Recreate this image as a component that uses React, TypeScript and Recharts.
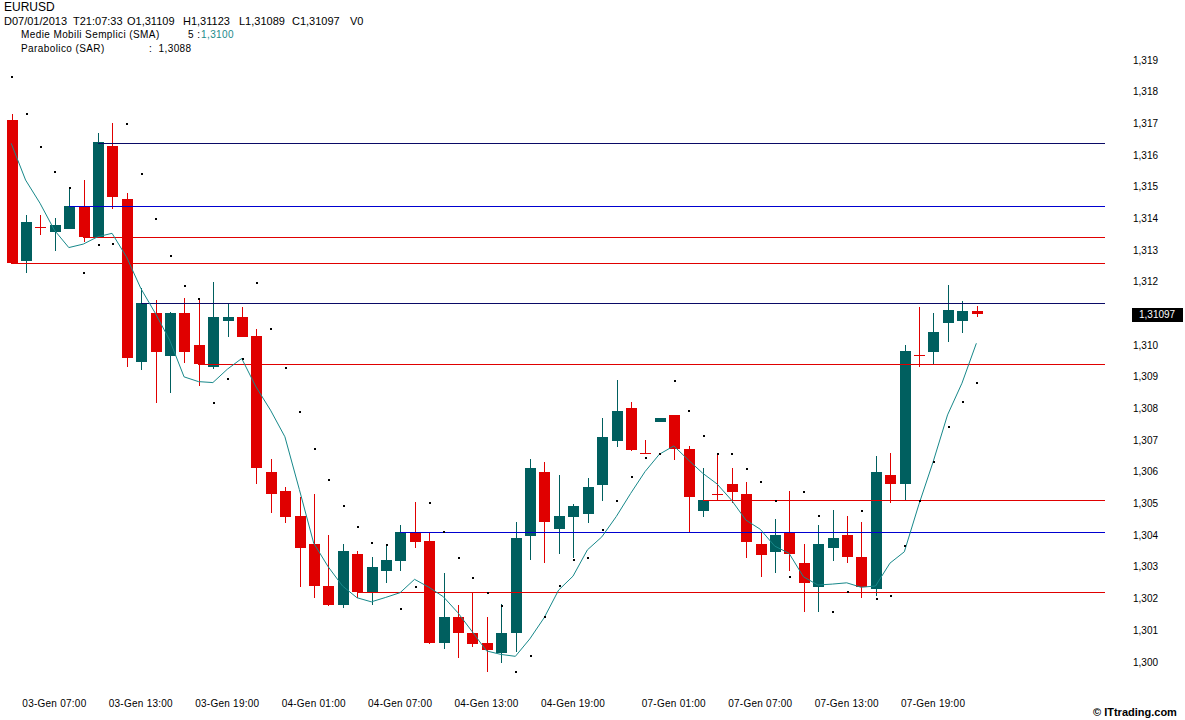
import React from "react";
import {
  Bar,
  ComposedChart,
  Line,
  ReferenceLine,
  XAxis,
  YAxis,
} from "recharts";

// EURUSD hourly candles, 03-Gen 04:00 .. 07-Gen
const opens = [
  1.31711, 1.31266, 1.31372, 1.31358, 1.31368, 1.31437, 1.31342, 1.31629, 1.31461, 1.30948,
  1.31102, 1.30966, 1.31102, 1.31, 1.3093, 1.31077, 1.31088, 1.31029, 1.30599, 1.3054,
  1.30461, 1.30372, 1.3024, 1.3018, 1.30341, 1.3022, 1.30288, 1.3032, 1.30409, 1.30383,
  1.30059, 1.30143, 1.30092, 1.30061, 1.30029, 1.30091, 1.30399, 1.30599, 1.30419, 1.30459,
  1.30467, 1.30559, 1.30698, 1.30801, 1.3066, 1.30758, 1.3078, 1.30671, 1.30478, 1.3053,
  1.30562, 1.3053, 1.30372, 1.30348, 1.30408, 1.30312, 1.30238, 1.30359, 1.30401, 1.30332,
  1.30229, 1.3059, 1.30561, 1.30968, 1.30979, 1.31069, 1.31077, 1.31109,
];
const highs = [
  1.3173, 1.31411, 1.31411, 1.314, 1.31498, 1.31521, 1.31671, 1.31702, 1.31479, 1.31179,
  1.31143, 1.31105, 1.31148, 1.31148, 1.312, 1.31132, 1.3112, 1.3105, 1.3064, 1.30551,
  1.30522, 1.3053, 1.30401, 1.30371, 1.30351, 1.30332, 1.30371, 1.30432, 1.30504, 1.30409,
  1.30282, 1.3018, 1.3022, 1.30143, 1.30182, 1.30443, 1.3064, 1.30632, 1.3059, 1.305,
  1.3058, 1.30769, 1.3089, 1.30822, 1.30701, 1.30769, 1.3078, 1.30682, 1.30611, 1.30656,
  1.30611, 1.30569, 1.30408, 1.3045, 1.3054, 1.30371, 1.30432, 1.3048, 1.30461, 1.30443,
  1.3065, 1.30661, 1.31, 1.31121, 1.31101, 1.3119, 1.31139, 1.31123,
];
const lows = [
  1.31259, 1.31229, 1.31348, 1.31298, 1.31368, 1.31327, 1.31338, 1.31429, 1.3093, 1.30922,
  1.30817, 1.30849, 1.30943, 1.30871, 1.30925, 1.31027, 1.31025, 1.30561, 1.30469, 1.3044,
  1.30238, 1.30201, 1.30178, 1.30169, 1.30203, 1.3018, 1.3025, 1.30288, 1.30359, 1.30058,
  1.3004, 1.30012, 1.30048, 1.29969, 1.29998, 1.30033, 1.30322, 1.30312, 1.3034, 1.30329,
  1.3044, 1.30509, 1.3068, 1.30667, 1.30655, 1.30758, 1.30638, 1.30408, 1.30459, 1.30511,
  1.30501, 1.30329, 1.30269, 1.3028, 1.30288, 1.30159, 1.30159, 1.3032, 1.30312, 1.30201,
  1.30208, 1.30501, 1.30511, 1.3093, 1.3094, 1.31009, 1.31039, 1.31089,
];
const closes = [
  1.31259, 1.3139, 1.3137, 1.31379, 1.31439, 1.3134, 1.31641, 1.31469, 1.30959, 1.31133,
  1.30979, 1.31102, 1.30979, 1.3094, 1.31088, 1.31088, 1.31027, 1.30611, 1.30529, 1.30459,
  1.30359, 1.3024, 1.3018, 1.3035, 1.3022, 1.30301, 1.30322, 1.30409, 1.3038, 1.30059,
  1.30143, 1.30091, 1.30057, 1.30038, 1.30092, 1.30392, 1.30611, 1.30441, 1.30461, 1.30492,
  1.30551, 1.30709, 1.30792, 1.30669, 1.30658, 1.30769, 1.30671, 1.3052, 1.30511, 1.30528,
  1.30537, 1.3038, 1.30338, 1.30401, 1.3034, 1.3025, 1.30372, 1.30392, 1.3033, 1.30238,
  1.30601, 1.30561, 1.30982, 1.30966, 1.31042, 1.31111, 1.31108, 1.31097,
];
// Medie Mobili Semplici (SMA 5)
const smaValues = [
  1.31637, 1.31521, 1.31448, 1.31363, 1.31308, 1.31319, 1.31342, 1.31353, 1.31279, 1.31179,
  1.31101, 1.31016, 1.309, 1.30885, 1.30882, 1.30924, 1.30958, 1.30868, 1.30795, 1.30711,
  1.30545, 1.30375, 1.30301, 1.3024, 1.30203, 1.3019, 1.30204, 1.30219, 1.30261, 1.30236,
  1.30206, 1.30156, 1.30096, 1.30035, 1.30024, 1.30018, 1.30073, 1.3014, 1.30227, 1.30271,
  1.30354, 1.30395, 1.30459, 1.30532, 1.30601, 1.30656, 1.30682, 1.30638, 1.30596, 1.30562,
  1.30511, 1.30448, 1.30419, 1.30366, 1.30343, 1.30269, 1.30243, 1.30246, 1.3025, 1.30236,
  1.3024, 1.30312, 1.30348, 1.30496, 1.30632, 1.3078, 1.3088, 1.31006,
];
// Parabolico (SAR)
const sarValues = [
  1.31847, 1.31729, 1.31626, 1.31547, 1.31497, 1.31229, 1.31316, 1.31319, 1.31698, 1.3154,
  1.31397, 1.31282, 1.31188, 1.31146, 1.30818, 1.30893, 1.30955, 1.31197, 1.31051, 1.30927,
  1.3079, 1.30672, 1.30574, 1.30492, 1.30427, 1.30377, 1.30369, 1.30167, 1.30236, 1.30501,
  1.30409, 1.30329, 1.30266, 1.30217, 1.30178, 1.29969, 1.30019, 1.30143, 1.3024, 1.30322,
  1.30329, 1.30417, 1.30509, 1.30585, 1.30645, 1.30656, 1.30887, 1.30793, 1.30713, 1.30656,
  1.30655, 1.30609, 1.30569, 1.30508, 1.30269, 1.30538, 1.30461, 1.30159, 1.30222, 1.30478,
  1.30199, 1.30209, 1.30366, 1.30509, 1.30632, 1.30743, 1.30822, 1.3088,
];

const tickIndex = [3, 9, 15, 21, 27, 33, 39, 46, 52, 58, 64];
const tickLabels = [
  "03-Gen 07:00",
  "03-Gen 13:00",
  "03-Gen 19:00",
  "04-Gen 01:00",
  "04-Gen 07:00",
  "04-Gen 13:00",
  "04-Gen 19:00",
  "07-Gen 01:00",
  "07-Gen 07:00",
  "07-Gen 13:00",
  "07-Gen 19:00",
];
// 1,311 is hidden by the last-price tag
const priceTicks = [
  1.3, 1.301, 1.302, 1.303, 1.304, 1.305, 1.306, 1.307, 1.308, 1.309,
  1.31, 1.312, 1.313, 1.314, 1.315, 1.316, 1.317, 1.318, 1.319,
];

// horizontal levels: price, candle they start from, kind
const levelPrices = [1.31639, 1.31439, 1.3134, 1.31259, 1.31134, 1.30941, 1.30511, 1.3041, 1.30221];
const levelStarts = [6, 4, 5, 0, 9, 13, 48, 27, 24];
const levelKinds = ["navy", "blue", "red", "red", "navy", "red", "red", "blue", "red"];

const lastPrice = 1.31097;

const RED = "#e00000";
const TEAL = "#005f5f";
const levelColor: Record<string, string> = {
  navy: "#0a0a66",
  blue: "#0000d0",
  red: "#e00000",
};
const FONT = "'Liberation Sans', Arial, sans-serif";
const X_MAX = 75.93;

const data = opens.map((o, i) => ({
  i,
  o,
  h: highs[i],
  l: lows[i],
  c: closes[i],
  range: [lows[i], highs[i]],
  sma: smaValues[i],
  sar: sarValues[i],
}));

function Candle(props: any) {
  const { x, y, width, height, payload } = props;
  if (!payload) return null;
  const { o, h, l, c } = payload;
  const top = Math.min(y, y + height);
  const hgt = Math.abs(height);
  const k = h - l > 0 ? hgt / (h - l) : 0;
  const py = (v: number) => top + (h - v) * k;
  const color = c >= o ? TEAL : RED;
  const cx = Math.round(x + width / 2);
  const bTop = Math.round(py(Math.max(o, c)));
  const bBot = Math.round(py(Math.min(o, c)));
  return (
    <g>
      <line
        x1={cx + 0.5}
        x2={cx + 0.5}
        y1={Math.round(top)}
        y2={Math.round(top + hgt)}
        stroke={color}
        strokeWidth={1}
      />
      <rect
        x={cx - 5}
        y={bTop}
        width={11}
        height={Math.max(1, bBot - bTop)}
        fill={color}
      />
    </g>
  );
}

// level line snapped to a whole pixel row
function LevelLine(props: any) {
  const { x1, x2, y1, stroke } = props;
  if (x1 == null || y1 == null) return null;
  const yy = Math.round(y1) + 0.5;
  return (
    <line x1={Math.round(x1)} x2={Math.round(x2)} y1={yy} y2={yy} stroke={stroke} strokeWidth={1} />
  );
}

function SarDot(props: any) {
  const { cx, cy } = props;
  if (cx == null || cy == null) return null;
  return (
    <rect
      x={Math.round(cx)}
      y={Math.round(cy) - 1}
      width={2}
      height={2}
      fill="#000"
    />
  );
}

function TimeTick(props: any) {
  const { x, payload } = props;
  const idx = tickIndex.indexOf(payload.value);
  return (
    <text
      x={x}
      y={707}
      textAnchor="middle"
      fontSize={10}
      fontFamily={FONT}
      letterSpacing={0.25}
      fill="#000"
    >
      {idx >= 0 ? tickLabels[idx] : ""}
    </text>
  );
}

function PriceTick(props: any) {
  const { y, payload } = props;
  return (
    <text
      x={1133}
      y={y + 3.5}
      textAnchor="start"
      fontSize={10}
      fontFamily={FONT}
      fill="#000"
    >
      {payload.value.toFixed(3).replace(".", ",")}
    </text>
  );
}

function PriceTag(props: any) {
  const { viewBox } = props;
  if (!viewBox) return null;
  const y = viewBox.y;
  return (
    <g>
      <rect x={1132} y={Math.round(y) - 6} width={51} height={14} fill="#000" />
      <text
        x={1139}
        y={Math.round(y) + 4}
        fontSize={10}
        fontFamily={FONT}
        fill="#fff"
      >
        {lastPrice.toFixed(5).replace(".", ",")}
      </text>
    </g>
  );
}

const headStyle: React.CSSProperties = {
  position: "absolute",
  fontFamily: FONT,
  whiteSpace: "pre",
  lineHeight: 1,
  color: "#000",
};

function Label({
  x,
  y,
  size,
  children,
  color,
  spacing,
  bold,
}: {
  x: number;
  y: number;
  size: number;
  children: React.ReactNode;
  color?: string;
  spacing?: number;
  bold?: boolean;
}) {
  return (
    <div
      style={{
        ...headStyle,
        left: x,
        top: y - size / 2 - 1,
        fontSize: size,
        color: color ?? "#000",
        letterSpacing: spacing ?? 0,
        fontWeight: bold ? 700 : 400,
      }}
    >
      {children}
    </div>
  );
}

export default function App() {
  return (
    <div
      style={{
        position: "absolute",
        left: 0,
        top: 0,
        width: 1185,
        height: 720,
        background: "#fff",
        overflow: "hidden",
      }}
    >
      <ComposedChart
        width={1185}
        height={720}
        data={data}
        margin={{ top: 28, right: 0, bottom: 0, left: 4 }}
      >
        <XAxis
          dataKey="i"
          type="number"
          domain={[-0.5, X_MAX]}
          allowDataOverflow
          ticks={tickIndex}
          tick={<TimeTick />}
          tickLine={false}
          axisLine={false}
          height={38}
          interval={0}
        />
        <YAxis
          orientation="right"
          domain={[1.29937, 1.32001]}
          allowDataOverflow
          ticks={priceTicks}
          tick={<PriceTick />}
          tickLine={false}
          axisLine={false}
          width={80}
          interval={0}
        />
        {levelPrices.map((p, k) => (
          <ReferenceLine
            key={k}
            segment={[
              { x: levelStarts[k], y: p },
              { x: X_MAX, y: p },
            ]}
            stroke={levelColor[levelKinds[k]]}
            strokeWidth={1}
            shape={<LevelLine />}
          />
        ))}
        <ReferenceLine
          y={lastPrice}
          stroke="none"
          label={<PriceTag />}
        />
        <Bar
          dataKey="range"
          barSize={11}
          shape={<Candle />}
          isAnimationActive={false}
        />
        <Line
          dataKey="sma"
          type="linear"
          stroke="#17888a"
          strokeWidth={1}
          dot={false}
          activeDot={false}
          isAnimationActive={false}
        />
        <Line
          dataKey="sar"
          type="linear"
          stroke="none"
          strokeWidth={0}
          dot={<SarDot />}
          activeDot={false}
          isAnimationActive={false}
        />
      </ComposedChart>

      <Label x={4} y={8} size={12}>EURUSD</Label>
      <Label x={4} y={22} size={11}>D07/01/2013</Label>
      <Label x={73} y={22} size={11}>T21:07:33</Label>
      <Label x={127} y={22} size={11}>O1,31109</Label>
      <Label x={183} y={22} size={11}>H1,31123</Label>
      <Label x={239} y={22} size={11}>L1,31089</Label>
      <Label x={292} y={22} size={11}>C1,31097</Label>
      <Label x={350} y={22} size={11}>V0</Label>
      <Label x={21} y={36} size={10} spacing={0.4}>Medie Mobili Semplici (SMA)</Label>
      <Label x={188} y={36} size={10} spacing={0.4}>5 :</Label>
      <Label x={201} y={36} size={10} spacing={0.4} color="#1a8a8a">1,3100</Label>
      <Label x={21} y={50} size={10} spacing={0.4}>Parabolico (SAR)</Label>
      <Label x={149} y={50} size={10} spacing={0.4}>:  1,3088</Label>
      <Label x={1093} y={713} size={11} bold>© ITtrading.com</Label>
    </div>
  );
}
